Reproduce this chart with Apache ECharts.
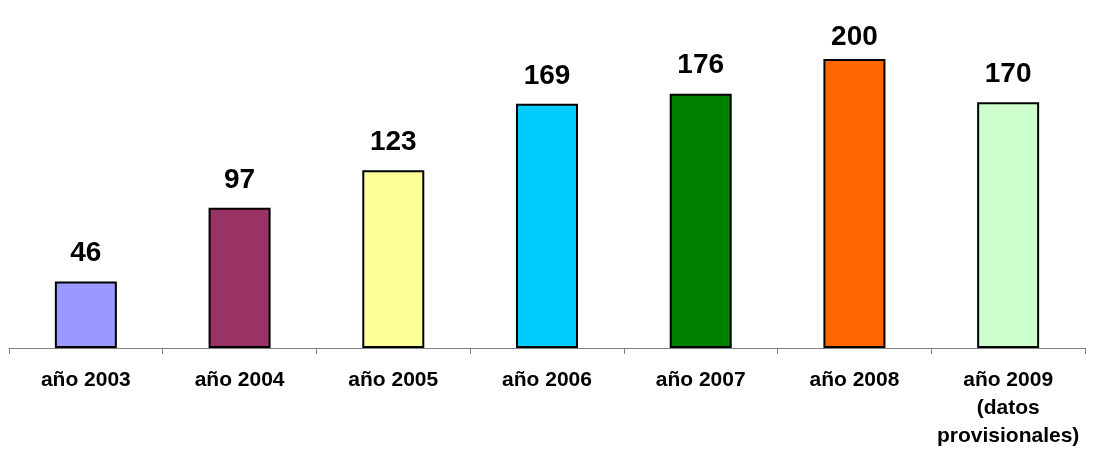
<!DOCTYPE html>
<html>
<head>
<meta charset="utf-8">
<script src="https://cdn.jsdelivr.net/npm/echarts@6/dist/echarts.min.js"></script>
<style>
  html, body { margin: 0; padding: 0; background: #fff; }
  #chart { width: 1095px; height: 450px; }
</style>
</head>
<body>
<div id="chart"></div>
<script>
// Annual totals, 2003–2009 (2009 figure provisional)
const categories = ['año 2003', 'año 2004', 'año 2005', 'año 2006', 'año 2007', 'año 2008', 'año 2009\n(datos\nprovisionales)'];
const values = [46, 97, 123, 169, 176, 200, 170];
const barColors = ['#9999FF', '#993366', '#FFFF99', '#00CCFF', '#008000', '#FF6600', '#CCFFCC'];

const peak = Math.max(...values);

const chart = echarts.init(document.getElementById('chart'));
chart.setOption({
  animation: false,
  backgroundColor: '#ffffff',
  grid: { left: 9, right: 10, top: 59, bottom: 100 },
  xAxis: {
    type: 'category',
    data: categories,
    axisLine: { lineStyle: { color: '#808080', width: 1 } },
    axisTick: { show: true, length: 6, lineStyle: { color: '#808080' } },
    axisLabel: {
      interval: 0,
      margin: 18,
      color: '#000',
      fontFamily: 'Liberation Sans, Arial, sans-serif',
      fontWeight: 'bold',
      fontSize: 21,
      lineHeight: 28
    }
  },
  yAxis: {
    type: 'value',
    min: 0,
    max: 200,
    show: false,
    splitLine: { show: false }
  },
  series: [{
    type: 'bar',
    barWidth: 62,
    data: values.map((v, i) => {
      const item = { value: v, itemStyle: { color: barColors[i] } };
      // the tallest bar's label sits a little tighter against the top edge
      if (v === peak) item.label = { distance: 8 };
      return item;
    }),
    itemStyle: { borderColor: '#000', borderWidth: 2 },
    label: {
      show: true,
      position: 'top',
      distance: 14,
      color: '#000',
      fontFamily: 'Liberation Sans, Arial, sans-serif',
      fontWeight: 'bold',
      fontSize: 28
    }
  }]
});
</script>
</body>
</html>
